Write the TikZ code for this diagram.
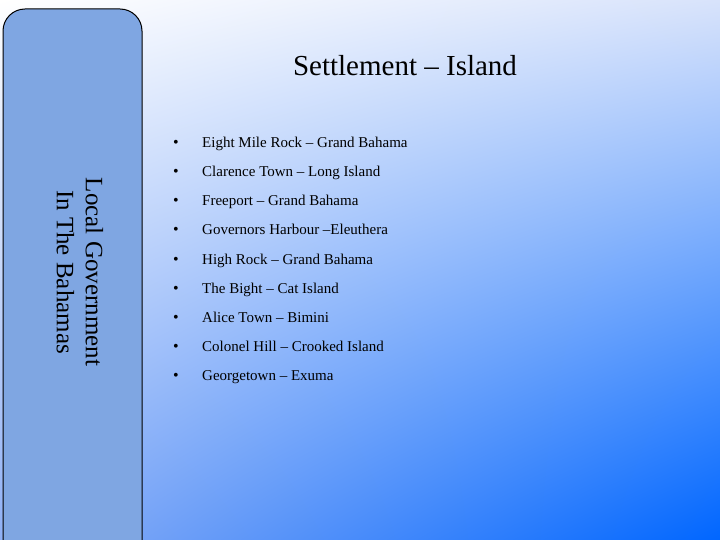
\documentclass[tikz,border=0pt]{standalone}
\usepackage{fontspec}
\usetikzlibrary{shadings}
\setmainfont{Liberation Serif}
\definecolor{panel}{HTML}{7FA6E2}
\definecolor{ur}{HTML}{D8E3FB}
\definecolor{ll}{HTML}{8FB0F5}
\definecolor{lr}{HTML}{0066FF}
\tikzset{item/.style={anchor=base west,font=\fontsize{15}{17}\selectfont,inner sep=0pt},
bul/.style={anchor=base,font=\fontsize{16}{18}\selectfont,inner sep=0pt}}
\begin{document}
\begin{tikzpicture}[x=1pt,y=-1pt]
\shade[upper left=white,upper right=ur,lower left=ll,lower right=lr] (0,0) rectangle (720,540);
\useasboundingbox (0,0) rectangle (720,540);
\draw[fill=panel,rounded corners=22pt,line width=1pt] (3,560) -- (3,9) -- (142,9) -- (142,560);
\node[rotate=-90,font=\fontsize{25}{29}\selectfont,align=center] (side) at (80,272) {Local Government\\In The Bahamas};
\node[font=\fontsize{29}{32}\selectfont] (title) at (405,66) {Settlement -- Island};
\foreach \t [count=\i] in {Eight Mile Rock -- Grand Bahama,Clarence Town -- Long Island,Freeport -- Grand Bahama,Governors Harbour --Eleuthera,High Rock -- Grand Bahama,The Bight -- Cat Island,Alice Town -- Bimini,Colonel Hill -- Crooked Island,Georgetown -- Exuma}{
\node[bul] (b\i) at (176,{148+29*(\i-1)}) {•};
\node[item] (t\i) at (202,{148+29*(\i-1)}) {\t};
}
\end{tikzpicture}
\end{document}
